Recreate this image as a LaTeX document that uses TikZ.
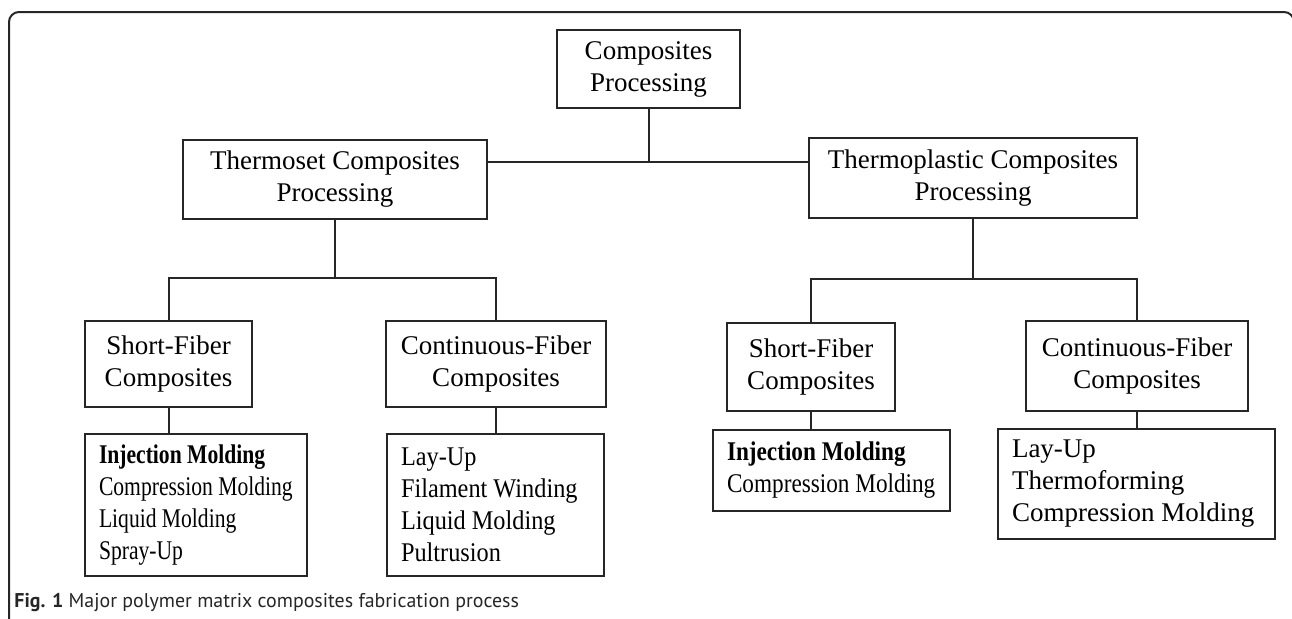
\documentclass[tikz,border=0pt]{standalone}
\usepackage{fontspec}
\setmainfont{Liberation Serif}
\newfontfamily\capfont{PT Sans}
\newfontfamily\condA[FakeStretch=0.80]{Liberation Serif}
\newfontfamily\condB[FakeStretch=0.90]{Liberation Serif}
\newfontfamily\condC[FakeStretch=0.86]{Liberation Serif}
\definecolor{linec}{HTML}{262626}
\begin{document}
\begin{tikzpicture}[x=0.5pt,y=-0.5pt,
  box/.style={draw=linec, line width=1pt, fill=white, inner sep=0pt, align=center,
    anchor=north west, font=\fontsize{13.5}{16}\selectfont},
  listbox/.style={box, align=flush left, inner xsep=7pt},
  conn/.style={draw=linec, line width=1pt},
  frame/.style={draw=linec, line width=1pt, rounded corners=5pt}]
\useasboundingbox (0,0) rectangle (1292,618);
\clip (0,0) rectangle (1292,618);
\fill[white] (0,0) rectangle (1292,618);
\draw[frame] (9,700) -- (9,12) -- (1294,12) -- (1294,700);

% level 0 / 1
\node[box, minimum width=91.5pt, minimum height=39pt] (root) at (556,29) {Composites\\Processing};
\node[box, minimum width=152pt, minimum height=39.5pt] (ts) at (182,139) {Thermoset Composites\\Processing};
\node[box, minimum width=164pt, minimum height=40pt] (tp) at (808,137) {Thermoplastic Composites\\Processing};

% level 2
\node[box, minimum width=83.5pt, minimum height=43pt] (ls) at (84,320) {Short-Fiber\\Composites};
\node[box, minimum width=110pt, minimum height=43pt] (lc) at (385,320) {Continuous-Fiber\\Composites};
\node[box, minimum width=84pt, minimum height=44pt] (rs) at (726,322) {Short-Fiber\\Composites};
\node[box, minimum width=111pt, minimum height=45pt] (rc) at (1025,320) {Continuous-Fiber\\Composites};

% level 3
\node[listbox, minimum width=111pt, minimum height=71pt, text width=97pt] (ll) at (84,433)
  {\condA\textbf{Injection Molding}\\Compression Molding\\Liquid Molding\\Spray-Up};
\node[listbox, minimum width=108.5pt, minimum height=71pt, text width=94.5pt] (lm) at (386,433)
  {\condB Lay-Up\\Filament Winding\\Liquid Molding\\Pultrusion};
\node[listbox, minimum width=118.5pt, minimum height=40.5pt, text width=104.5pt] (rm) at (712,429)
  {\condC\textbf{Injection Molding}\\Compression Molding};
\node[listbox, minimum width=138.5pt, minimum height=55pt, text width=124.5pt] (rr) at (997,428)
  {Lay-Up\\Thermoforming\\Compression Molding};

% connectors
\coordinate (j0) at (0,162);
\coordinate (j1) at (0,278);
\coordinate (j2) at (0,279);
\draw[conn] (root.south) -- (root.south |- j0);
\draw[conn] (ts.east |- j0) -- (tp.west |- j0);
\draw[conn] (ts.south) -- (ts.south |- j1);
\draw[conn] (ls.north) -- (ls.north |- j1) -- (lc.north |- j1) -- (lc.north);
\draw[conn] (tp.south) -- (tp.south |- j2);
\draw[conn] (rs.north) -- (rs.north |- j2) -- (rc.north |- j2) -- (rc.north);
\draw[conn] (ls.south) -- (ls.south |- ll.north);
\draw[conn] (lc.south) -- (lc.south |- lm.north);
\draw[conn] (rs.south) -- (rs.south |- rm.north);
\draw[conn] (rc.south) -- (rc.south |- rr.north);

% caption
\node[anchor=base west, inner sep=0pt, font=\capfont\fontsize{9.95}{12}\selectfont, text=linec] (cap) at (14,607)
  {\textbf{Fig. 1} Major polymer matrix composites fabrication process};
\end{tikzpicture}
\end{document}
